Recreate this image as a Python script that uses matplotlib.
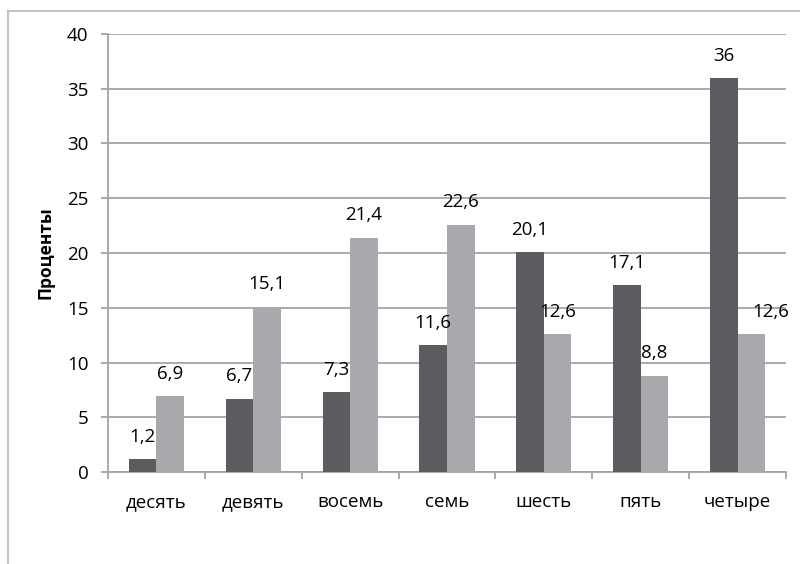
import matplotlib.pyplot as plt
from matplotlib.lines import Line2D
import numpy as np

categories = ['десять', 'девять', 'восемь', 'семь', 'шесть', 'пять', 'четыре']
dark_values = [1.2, 6.7, 7.3, 11.6, 20.1, 17.1, 36]
light_values = [6.9, 15.1, 21.4, 22.6, 12.6, 8.8, 12.6]
y_ticks = [0, 5, 10, 15, 20, 25, 30, 35, 40]

plt.rcParams['font.family'] = ['Open Sans', 'DejaVu Sans']

DARK = '#5b5c60'
LIGHT = '#a7a9ac'
GRID = '#a4a4a4'
FS = 13.5


def fmt(v):
    s = ('%g' % v)
    return s.replace('.', ',')


fig = plt.figure(figsize=(8, 5.64), dpi=100)
ax = fig.add_axes([108 / 800, 1 - 472 / 564, 678 / 800, 438 / 564])

x = np.arange(len(categories))
w = 0.285
ax.bar(x - w / 2, dark_values, w, color=DARK, zorder=3)
ax.bar(x + w / 2, light_values, w, color=LIGHT, zorder=3)

for i, v in enumerate(dark_values):
    ax.annotate(fmt(v), (x[i] - w / 2, v), xytext=(0, 16),
                textcoords='offset points', ha='center', va='center',
                fontsize=FS, color='#000000')
for i, v in enumerate(light_values):
    dx = 14 if i == len(light_values) - 1 else 0
    ax.annotate(fmt(v), (x[i] + w / 2, v), xytext=(dx, 16),
                textcoords='offset points', ha='center', va='center',
                fontsize=FS, color='#000000')

ax.set_xlim(-0.5, len(categories) - 0.5)
ax.set_ylim(0, 40)
ax.set_yticks(y_ticks)
ax.set_yticklabels([str(t) for t in y_ticks], fontsize=FS, color='#000000')
ax.set_xticks(x)
ax.set_xticklabels(categories, fontsize=FS, color='#000000')
ax.set_xticks(np.arange(-0.5, len(categories)), minor=True)

ax.tick_params(axis='x', which='major', length=0, pad=15)
ax.tick_params(axis='x', which='minor', length=5, color=GRID, width=1.3)
ax.tick_params(axis='y', length=5, color=GRID, width=1.3, pad=9)

ax.yaxis.grid(True, color=GRID, linewidth=1.3, zorder=0)
ax.set_axisbelow(True)
for s in ['top', 'right']:
    ax.spines[s].set_visible(False)
for s in ['left', 'bottom']:
    ax.spines[s].set_color(GRID)
    ax.spines[s].set_linewidth(1.3)

ax.set_ylabel('Проценты', fontsize=12.5, fontweight='bold', labelpad=9)

# outer frame of the chart area
fig.add_artist(Line2D([8 / 800, 1], [1 - 11 / 564, 1 - 11 / 564],
                      color='#c4c4c4', linewidth=1.5, transform=fig.transFigure))
fig.add_artist(Line2D([8 / 800, 8 / 800], [0, 1 - 11 / 564],
                      color='#c4c4c4', linewidth=1.5, transform=fig.transFigure))

fig.savefig('out.png', dpi=100)
